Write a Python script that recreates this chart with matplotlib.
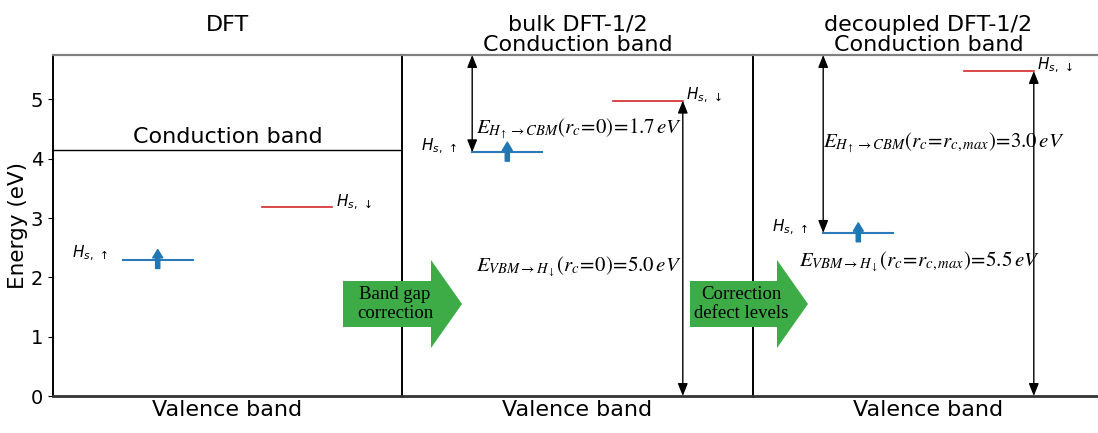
"""Energy level diagram: DFT vs bulk DFT-1/2 vs decoupled DFT-1/2."""

import matplotlib

matplotlib.use("Agg")
import matplotlib.pyplot as plt
from matplotlib.patches import FancyArrow


panel_titles = ["DFT\n ", "bulk DFT-1/2\nConduction band", "decoupled DFT-1/2\nConduction band"]
cbm_levels = [4.15, 5.75, 5.75]
h_up_levels = [2.30, 4.11, 2.75]
h_down_levels = [3.18, 4.98, 5.48]
gap_labels = [
    None,
    r"$E_{H_{\uparrow}\rightarrow CBM}(r_c\!=\!0)\!=\!1.7\,eV$",
    r"$E_{H_{\uparrow}\rightarrow CBM}(r_c\!=\!r_{c,max})\!=\!3.0\,eV$",
]
vbm_labels = [
    None,
    r"$E_{VBM\rightarrow H_{\downarrow}}(r_c\!=\!0)\!=\!5.0\,eV$",
    r"$E_{VBM\rightarrow H_{\downarrow}}(r_c\!=\!r_{c,max})\!=\!5.5\,eV$",
]
gap_label_pos = [None, (0.21, 4.50), (0.20, 4.26)]
vbm_label_pos = [None, (0.21, 2.17), (0.13, 2.26)]
arrow_texts = ["Band gap\ncorrection", "Correction\ndefect levels"]

Y_MAX = 5.75
BLUE = "#2b7bba"
RED = "#d62728"
GREEN = "#3dab46"

fig = plt.figure(figsize=(10.98, 4.33), dpi=100)
lefts = [53 / 1098, 402 / 1098, 753 / 1098]
widths = [349 / 1098, 351 / 1098, 351 / 1098]
bottom = 1 - 396 / 433
height = (396 - 55) / 433

for i, title in enumerate(panel_titles):
    ax = fig.add_axes([lefts[i], bottom, widths[i], height])
    ax.set_xlim(0, 1)
    ax.set_ylim(0, Y_MAX)
    ax.set_xticks([])
    if i == 0:
        ax.set_yticks(range(6))
        ax.tick_params(axis="y", labelsize=14)
        ax.set_ylabel("Energy (eV)", fontsize=15.5, labelpad=2)
    else:
        ax.set_yticks([])
    ax.set_title(title, fontsize=16, pad=3, linespacing=1.0)
    ax.set_xlabel("Valence band", fontsize=16, labelpad=3)

    ax.spines["right"].set_visible(False)
    ax.spines["top"].set_color("#808080")
    ax.spines["top"].set_linewidth(1.6)
    ax.spines["bottom"].set_color("#333333")
    ax.spines["bottom"].set_linewidth(2.0)
    ax.spines["left"].set_color("black")
    ax.spines["left"].set_linewidth(1.4)

    if i == 0:
        ax.axhline(cbm_levels[i], color="black", lw=1)
        ax.text(0.5, cbm_levels[i] + 0.05, "Conduction band", ha="center",
                va="bottom", fontsize=16)

    # defect levels
    ax.plot([0.2, 0.4], [h_up_levels[i]] * 2, color=BLUE, lw=1.5)
    ax.plot([0.6, 0.8], [h_down_levels[i]] * 2, color=RED, lw=1.2)
    ax.annotate("", xy=(0.3, h_up_levels[i] + 0.17), xytext=(0.3, h_up_levels[i] - 0.15),
                arrowprops=dict(arrowstyle="simple,head_length=0.5,head_width=0.6,tail_width=0.25",
                                color="#1f77b4", mutation_scale=12, shrinkA=0, shrinkB=0))
    ax.text(0.055, h_up_levels[i] + 0.1, r"$H_{s,\;\uparrow}$", fontsize=11,
            ha="left", va="center")
    ax.text(0.81, h_down_levels[i] + 0.09, r"$H_{s,\;\downarrow}$", fontsize=11,
            ha="left", va="center")

    if gap_labels[i] is not None:
        arrow_kw = dict(arrowstyle="<|-|>,head_length=0.5,head_width=0.2", color="black",
                        lw=1.0, mutation_scale=15, shrinkA=0, shrinkB=0)
        ax.annotate("", xy=(0.2, cbm_levels[i]), xytext=(0.2, h_up_levels[i]),
                    arrowprops=arrow_kw)
        ax.annotate("", xy=(0.8, h_down_levels[i]), xytext=(0.8, 0),
                    arrowprops=arrow_kw)
        ax.text(*gap_label_pos[i], gap_labels[i], fontsize=15, ha="left", va="center",
                math_fontfamily="stix")
        ax.text(*vbm_label_pos[i], vbm_labels[i], fontsize=15, ha="left", va="center",
                math_fontfamily="stix")

# green block arrows between the panels (positions in pixels)
arrow_tails = [343, 690]
arrow_tips = [462, 808]
arrow_y = 433 - 304
for tail, tip, label in zip(arrow_tails, arrow_tips, arrow_texts):
    patch = FancyArrow(tail / 100, arrow_y / 100, (tip - tail) / 100, 0,
                       width=0.46, head_width=0.88, head_length=0.31,
                       length_includes_head=True, color=GREEN, lw=0,
                       transform=fig.dpi_scale_trans)
    fig.add_artist(patch)
    fig.text(((tail + tip) / 2 - 7.5) / 100, arrow_y / 100, label,
             transform=fig.dpi_scale_trans, ha="center", va="center",
             fontsize=13.5, family="Liberation Serif", linespacing=1.15)

fig.savefig("out.png", dpi=100)
